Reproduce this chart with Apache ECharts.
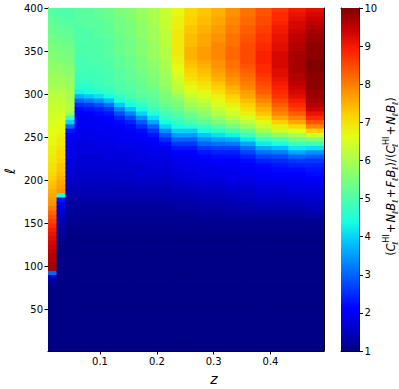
<!DOCTYPE html>
<html><head><meta charset="utf-8">
<script src="https://cdn.jsdelivr.net/npm/echarts@6/dist/echarts.min.js"></script>
<style>html,body{margin:0;padding:0;background:#fff}#c{width:399px;height:389px}</style>
</head><body><div id="c"></div>
<script>
// z bin edges (equal-frequency bins)
const zEdges = [0.00852,0.02364,0.03923,0.05529,0.07186,0.08896,0.10661,0.12484,0.14369,0.16317,0.18333,0.20421,0.22583,0.24824,0.27149,0.29562,0.32068,0.34674,0.37384,0.40205,0.43145,0.46211,0.49411];
// ell bin edges, top to bottom
const ellEdges = [400,395,390,385,380,375,370,365,360,355,350,345,340,335,330,325,320,315,310,305,300,295,290,285,280,275,270,265,260,255,250,245,240,235,230,225,220,215,210,205,200,195,190,185,180,175,170,165,160,155,150,145,140,135,130,125,120,115,110,105,100,95,90,85,80,75,70,65,60,55,50,45,40,35,30,25,20,15,10,5,0];
const zTicks = [0.1,0.2,0.3,0.4];
const ellTicks = [50,100,150,200,250,300,350,400];
const cbTicks = [1,2,3,4,5,6,7,8,9,10];
const cbRange = [1,10];

// values per z column, rows from ell=400 down to ell=0
const col00 = [5.1,5.1,5.2,5.2,5.3,5.3,5.4,5.4,5.5,5.5, 5.6,5.6,5.7,5.7,5.8,5.8,5.9,5.9,6.0,6.1, 6.2,6.2,6.3,6.3,6.4,6.4,6.5,6.5,6.6,6.6, 6.7,6.7,6.8,6.8,6.9,6.9,7.0,7.0,7.1,7.2, 7.3,7.4,7.5,7.6,7.7,7.8,8.0,8.2,8.4,8.6, 8.8,9.0,9.1,9.2,9.3,9.4,9.5,9.6,9.6,9.7, 9.7,3.0,1.5,1.2,1.1,1.05,1.05,1.05,1.05,1.05, 1.05,1.05,1.05,1.05,1.05,1.05,1.05,1.05,1.05,1.05];
const col01 = [5.0,5.0,5.1,5.1,5.2,5.2,5.3,5.3,5.4,5.4, 5.5,5.5,5.6,5.7,5.7,5.8,5.9,5.9,6.0,6.1, 6.2,6.3,6.3,6.4,6.5,6.5,6.6,6.7,6.7,6.8, 6.9,6.9,7.0,7.1,7.1,7.2,7.3,7.3,7.4,7.5, 7.6,7.7,7.8,4.5,2.3,2.0,1.8,1.6,1.5,1.4, 1.3,1.25,1.2,1.15,1.1,1.05,1.05,1.05,1.05,1.05, 1.05,1.05,1.05,1.05,1.05,1.05,1.05,1.05,1.05,1.05, 1.05,1.05,1.05,1.05,1.05,1.05,1.05,1.05,1.05,1.05];
// columns 2..21: ell 400 -> 150
const col02 = [5.0,5.0,5.0,5.1,5.1,5.2,5.2,5.3,5.3,5.4, 5.4,5.5,5.5,5.6,5.7,5.7,5.8,5.8,5.9,6.0, 6.0,6.0,6.1,6.1,5.8,4.8,4.0,3.0,2.3,2.1, 2.0,2.0,1.9,1.9,1.9,1.8,1.8,1.7,1.7,1.6, 1.55,1.45,1.4,1.35,1.3,1.25,1.2,1.2,1.15,1.15];
const col03 = [5.1,5.1,5.1,5.1,5.0,5.0,5.0,5.0,5.0,5.0, 5.0,4.9,4.9,4.9,4.9,4.8,4.8,4.7,4.6,4.3, 3.7,3.0,2.5,2.2,2.1,2.0,2.0,2.0,1.9,1.9, 1.9,1.8,1.8,1.8,1.7,1.7,1.7,1.6,1.6,1.55, 1.5,1.45,1.4,1.35,1.3,1.25,1.2,1.2,1.15,1.15];
const col04 = [5.1,5.1,5.1,5.1,5.1,5.0,5.0,5.0,5.0,5.0, 5.0,5.0,4.9,4.9,4.9,4.8,4.8,4.7,4.6,4.4, 3.9,3.2,2.6,2.3,2.1,2.0,2.0,2.0,1.9,1.9, 1.9,1.8,1.8,1.8,1.7,1.7,1.7,1.6,1.6,1.55, 1.5,1.45,1.4,1.35,1.3,1.25,1.2,1.2,1.15,1.15];
const col05 = [5.2,5.2,5.2,5.1,5.1,5.1,5.1,5.0,5.0,5.0, 5.0,5.0,5.0,4.9,4.9,4.9,4.8,4.8,4.7,4.5, 4.1,3.4,2.8,2.4,2.2,2.1,2.0,2.0,2.0,1.9, 1.9,1.9,1.8,1.8,1.7,1.7,1.7,1.6,1.6,1.55, 1.5,1.45,1.4,1.35,1.3,1.25,1.2,1.2,1.15,1.15];
const col06 = [5.3,5.3,5.3,5.2,5.2,5.2,5.2,5.1,5.1,5.1, 5.1,5.1,5.0,5.0,5.0,4.9,4.9,4.9,4.8,4.7, 4.4,3.8,3.1,2.6,2.3,2.1,2.1,2.0,2.0,2.0, 1.9,1.9,1.8,1.8,1.8,1.7,1.7,1.6,1.6,1.55, 1.5,1.45,1.4,1.35,1.3,1.25,1.2,1.2,1.15,1.15];
const col07 = [5.5,5.5,5.4,5.4,5.4,5.4,5.3,5.3,5.3,5.3, 5.3,5.2,5.2,5.2,5.1,5.1,5.1,5.0,5.0,4.9, 4.7,4.4,3.9,3.3,2.8,2.4,2.2,2.1,2.0,2.0, 2.0,1.9,1.9,1.8,1.8,1.7,1.7,1.7,1.6,1.6, 1.5,1.45,1.4,1.35,1.3,1.25,1.2,1.2,1.15,1.15];
const col08 = [5.6,5.6,5.6,5.5,5.5,5.5,5.5,5.4,5.4,5.4, 5.4,5.3,5.3,5.3,5.2,5.2,5.2,5.1,5.1,5.0, 4.9,4.7,4.4,3.9,3.3,2.8,2.4,2.2,2.1,2.0, 2.0,1.9,1.9,1.8,1.8,1.8,1.7,1.7,1.6,1.6, 1.5,1.45,1.4,1.35,1.3,1.25,1.2,1.2,1.15,1.15];
const col09 = [5.8,5.8,5.8,5.7,5.7,5.7,5.7,5.6,5.6,5.6, 5.6,5.5,5.5,5.5,5.4,5.4,5.3,5.3,5.2,5.2, 5.1,4.9,4.7,4.4,4.0,3.4,2.9,2.5,2.2,2.1, 2.0,2.0,1.9,1.9,1.8,1.8,1.7,1.7,1.7,1.6, 1.55,1.45,1.4,1.35,1.3,1.25,1.2,1.2,1.15,1.15];
const col10 = [6.0,6.0,6.0,6.0,5.9,5.9,5.9,5.9,5.8,5.8, 5.8,5.8,5.7,5.7,5.6,5.6,5.5,5.5,5.4,5.3, 5.2,5.1,5.0,4.8,4.5,4.1,3.6,3.0,2.6,2.3, 2.1,2.0,2.0,1.9,1.9,1.8,1.8,1.7,1.7,1.6, 1.55,1.45,1.4,1.35,1.3,1.25,1.2,1.2,1.15,1.15];
const col11 = [6.3,6.3,6.3,6.3,6.3,6.2,6.2,6.2,6.2,6.1, 6.1,6.1,6.0,6.0,5.9,5.9,5.8,5.8,5.7,5.6, 5.5,5.4,5.3,5.1,4.9,4.7,4.4,4.0,3.4,2.9, 2.5,2.2,2.0,1.9,1.9,1.8,1.8,1.7,1.7,1.6, 1.55,1.45,1.4,1.35,1.3,1.25,1.2,1.2,1.15,1.15];
const col12 = [6.7,6.7,6.8,6.8,6.8,6.9,6.9,6.9,6.9,6.9, 6.9,6.8,6.8,6.7,6.6,6.5,6.4,6.3,6.2,6.1, 5.8,5.6,5.5,5.3,5.1,4.9,4.7,4.4,4.0,3.5, 3.0,2.6,2.3,2.1,2.0,1.9,1.9,1.8,1.8,1.7, 1.6,1.5,1.45,1.4,1.35,1.3,1.25,1.2,1.15,1.15];
const col13 = [7.1,7.1,7.2,7.2,7.3,7.3,7.4,7.4,7.4,7.5, 7.5,7.5,7.4,7.3,7.2,7.1,7.0,6.8,6.7,6.5, 6.3,6.1,5.9,5.7,5.4,5.2,5.0,4.6,4.0,3.5, 3.0,2.6,2.3,2.1,2.0,2.0,1.9,1.9,1.8,1.8, 1.65,1.55,1.45,1.4,1.35,1.3,1.25,1.2,1.15,1.15];
const col14 = [7.3,7.3,7.4,7.4,7.5,7.5,7.6,7.6,7.6,7.7, 7.7,7.7,7.6,7.5,7.4,7.3,7.2,7.0,6.9,6.7, 6.5,6.3,6.1,5.9,5.7,5.5,5.2,4.8,4.4,3.9, 3.4,3.0,2.6,2.3,2.1,2.0,2.0,1.9,1.9,1.8, 1.7,1.6,1.5,1.45,1.4,1.35,1.3,1.25,1.2,1.15];
const col15 = [7.5,7.5,7.6,7.6,7.7,7.7,7.8,7.8,7.9,7.9, 7.9,7.9,7.8,7.8,7.7,7.6,7.5,7.3,7.2,7.0, 6.8,6.7,6.5,6.3,6.1,5.8,5.5,5.1,4.6,4.1, 3.6,3.1,2.7,2.4,2.2,2.1,2.0,1.9,1.9,1.8, 1.7,1.6,1.5,1.45,1.4,1.35,1.3,1.25,1.2,1.15];
const col16 = [7.8,7.8,7.9,7.9,8.0,8.0,8.1,8.1,8.1,8.2, 8.2,8.2,8.1,8.1,8.0,7.9,7.8,7.7,7.5,7.4, 7.2,7.0,6.8,6.6,6.4,6.2,5.8,5.4,4.9,4.3, 3.7,3.2,2.7,2.4,2.2,2.1,2.0,2.0,1.9,1.9, 1.8,1.7,1.6,1.5,1.45,1.4,1.35,1.3,1.2,1.15];
const col17 = [8.1,8.1,8.2,8.2,8.3,8.3,8.4,8.4,8.5,8.5, 8.5,8.5,8.5,8.4,8.3,8.2,8.1,8.0,7.9,7.7, 7.6,7.4,7.2,7.0,6.8,6.5,6.2,5.8,5.3,4.8, 4.2,3.6,3.1,2.7,2.4,2.2,2.1,2.0,2.0,1.9, 1.8,1.7,1.6,1.55,1.5,1.4,1.35,1.3,1.2,1.15];
const col18 = [8.4,8.4,8.5,8.5,8.6,8.6,8.7,8.7,8.8,8.8, 8.9,8.9,8.9,8.8,8.8,8.7,8.6,8.5,8.4,8.3, 8.1,7.9,7.7,7.5,7.3,7.0,6.7,6.3,5.9,5.4, 4.8,4.2,3.6,3.1,2.7,2.4,2.2,2.1,2.0,2.0, 1.9,1.8,1.7,1.6,1.5,1.45,1.4,1.3,1.2,1.15];
const col19 = [8.7,8.8,8.8,8.9,9.0,9.0,9.1,9.1,9.2,9.2, 9.3,9.3,9.3,9.3,9.2,9.2,9.1,9.0,8.9,8.8, 8.7,8.5,8.3,8.1,7.9,7.6,7.2,6.8,6.3,5.7, 5.0,4.4,3.8,3.2,2.8,2.5,2.3,2.2,2.1,2.0, 1.9,1.8,1.7,1.6,1.5,1.45,1.4,1.3,1.2,1.15];
const col20 = [9.0,9.1,9.2,9.3,9.3,9.4,9.5,9.5,9.6,9.6, 9.7,9.7,9.7,9.7,9.7,9.6,9.6,9.5,9.4,9.3, 9.2,9.0,8.8,8.6,8.3,8.0,7.6,7.1,6.6,6.0, 5.4,4.8,4.2,3.6,3.0,2.6,2.4,2.2,2.1,2.0, 1.95,1.85,1.75,1.65,1.55,1.45,1.4,1.3,1.2,1.15];
const col21 = [9.2,9.3,9.4,9.5,9.6,9.7,9.8,9.8,9.9,9.9, 9.9,9.9,10,10,10,9.9,9.9,9.9,9.9,9.8, 9.8,9.7,9.6,9.4,9.1,8.8,8.4,7.9,7.2,6.4, 5.6,4.8,4.1,3.4,2.9,2.6,2.4,2.3,2.2,2.1, 2.0,1.9,1.8,1.7,1.6,1.5,1.45,1.35,1.25,1.15];
// ell 150 -> 0, shared dark floor for columns 2..21
const navyRows = [1.1,1.08,1.06,1.05,1.05,1.06,1.05,1.05,1.05,1.06, 1.05,1.05,1.05,1.06,1.05,1.05,1.05,1.06,1.05,1.05, 1.05,1.06,1.05,1.05,1.05,1.06,1.05,1.05,1.05,1.05];

const upperCols = [col02,col03,col04,col05,col06,col07,col08,col09,col10,col11,col12,col13,col14,col15,col16,col17,col18,col19,col20,col21];
const columns = [col00, col01].concat(upperCols.map(c => c.concat(navyRows)));

const cells = [];
columns.forEach((vals, c) => {
  vals.forEach((v, r) => {
    cells.push([zEdges[c], zEdges[c + 1], ellEdges[r + 1], ellEdges[r], v]);
  });
});

const jet = ['#000080','#0000C8','#0000FF','#0040FF','#0080FF','#00BFFF','#15FFE2','#48FFAF','#7BFF7B','#AFFF48','#E2FF15','#FFD200','#FF9700','#FF5C00','#FF2100','#C80000','#800000'];
const colorOf = v => echarts.color.lerp(Math.min(1, Math.max(0, (v - cbRange[0]) / (cbRange[1] - cbRange[0]))), jet);

const FF = 'DejaVu Sans';
const lineCol = '#000';
const chart = echarts.init(document.getElementById('c'), null, {renderer: 'svg'});

// each cell overlaps its right/lower neighbour by 1px (drawn later) to avoid white seams
function rectItem(params, api) {
  const a = api.coord([api.value(0), api.value(3)]);
  const b = api.coord([api.value(1), api.value(2)]);
  return {type: 'rect', shape: {x: a[0], y: a[1], width: b[0] - a[0] + 1, height: b[1] - a[1] + 1},
    style: {fill: colorOf(api.value(4))}};
}

const lineOnly = (grid, pos) => ({
  gridIndex: grid, type: 'value', position: pos, min: 0, max: 1,
  axisLine: {show: true, onZero: false, lineStyle: {color: lineCol, width: 1}},
  axisTick: {show: false}, axisLabel: {show: false}, splitLine: {show: false}
});

const cbName = '{p|(}{i|C}{s0|ℓ}{u|HI}{p|\u200a+\u200a}{i|N}{s|ℓ}{i|B}{s|ℓ}{p|\u200a+\u200a}{i|F}{s|ℓ}{i|B}{s|ℓ}{p|)/(}{i|C}{s0|ℓ}{u|HI}{p|\u200a+\u200a}{i|N}{s|ℓ}{i|B}{s|ℓ}{p|)}';

chart.setOption({
  animation: false,
  backgroundColor: '#fff',
  grid: [
    {left: 48, top: 8, width: 276, height: 343, show: false, containLabel: false, outerBoundsMode: 'none'},
    {left: 341, top: 8, width: 18.5, height: 343, show: false, containLabel: false, outerBoundsMode: 'none'}
  ],
  graphic: [
    {type: 'text', x: 10, y: 171, rotation: Math.PI / 2, silent: true,
     style: {text: 'ℓ', fontStyle: 'italic', fontSize: 14, fontFamily: FF, fill: '#000', align: 'center', verticalAlign: 'middle'}}
  ],
  xAxis: [
    {gridIndex: 0, type: 'value', position: 'bottom', min: zEdges[0], max: zEdges[zEdges.length - 1],
     axisLine: {show: true, onZero: false, lineStyle: {color: lineCol, width: 1}},
     axisTick: {show: true, length: 3.5, customValues: zTicks, lineStyle: {color: lineCol}},
     axisLabel: {customValues: zTicks, fontSize: 10, color: '#000', fontFamily: FF, margin: 5},
     splitLine: {show: false},
     name: 'z', nameLocation: 'middle', nameGap: 21,
     nameTextStyle: {fontStyle: 'italic', fontSize: 14, fontFamily: FF, color: '#000', padding: [0, 0, 0, 56]}},
    lineOnly(0, 'top'),
    lineOnly(1, 'bottom'),
    lineOnly(1, 'top')
  ],
  yAxis: [
    {gridIndex: 0, type: 'value', position: 'left', min: 2, max: 400,
     axisLine: {show: true, onZero: false, lineStyle: {color: lineCol, width: 1}},
     axisTick: {show: true, length: 3.5, customValues: ellTicks, lineStyle: {color: lineCol}},
     axisLabel: {customValues: ellTicks, fontSize: 10, color: '#000', fontFamily: FF, margin: 5},
     splitLine: {show: false}},
    lineOnly(0, 'right'),
    lineOnly(1, 'left'),
    {gridIndex: 1, type: 'value', position: 'right', min: cbRange[0], max: cbRange[1],
     axisLine: {show: true, onZero: false, lineStyle: {color: lineCol, width: 1}},
     axisTick: {show: true, length: 3.5, customValues: cbTicks, lineStyle: {color: lineCol}},
     axisLabel: {customValues: cbTicks, fontSize: 10, color: '#000', fontFamily: FF, margin: 5},
     splitLine: {show: false},
     name: cbName, nameLocation: 'middle', nameGap: 23, nameRotate: 90,
     nameTextStyle: {
       color: '#000', fontFamily: FF, fontSize: 11.5, padding: [0, 0, 0, 6],
       rich: {
         p: {fontSize: 11.5, fontFamily: FF, color: '#000', lineHeight: 17},
         i: {fontSize: 11.5, fontFamily: FF, fontStyle: 'italic', color: '#000', lineHeight: 17},
         s: {fontSize: 8, fontFamily: FF, fontStyle: 'italic', color: '#000', lineHeight: 9, verticalAlign: 'bottom'},
         s0: {fontSize: 8, fontFamily: FF, fontStyle: 'italic', color: '#000', lineHeight: 9, verticalAlign: 'bottom', width: 0.5},
         u: {fontSize: 8, fontFamily: FF, color: '#000', lineHeight: 9, verticalAlign: 'top'}
       }
     }}
  ],
  series: [
    {type: 'custom', xAxisIndex: 0, yAxisIndex: 0, clip: true, silent: true,
     encode: {x: [0, 1], y: [2, 3]}, data: cells, renderItem: rectItem},
    {type: 'custom', xAxisIndex: 2, yAxisIndex: 3, clip: true, silent: true,
     encode: {x: [0, 1], y: [2, 3]}, data: [[0, 1, cbRange[0], cbRange[1]]],
     renderItem: (params, api) => {
       const a = api.coord([api.value(0), api.value(3)]);
       const b = api.coord([api.value(1), api.value(2)]);
       return {type: 'rect', shape: {x: a[0], y: a[1], width: b[0] - a[0], height: b[1] - a[1]},
         style: {fill: new echarts.graphic.LinearGradient(0, 1, 0, 0, jet.map((c, k) => ({offset: k / (jet.length - 1), color: c})))}};
     }}
  ]
});
</script></body></html>
